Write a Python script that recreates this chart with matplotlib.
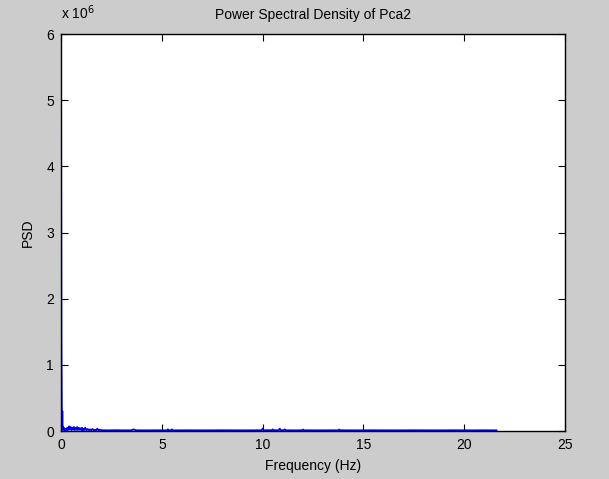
import matplotlib
matplotlib.use("Agg")
import matplotlib.pyplot as plt
from matplotlib.ticker import FuncFormatter

plt.rcParams['font.family'] = ['Liberation Sans', 'DejaVu Sans']

title = "Power Spectral Density of Pca2"
xlabel = "Frequency (Hz)"
ylabel = "PSD"

freq = [0.0, 0.02, 0.045, 0.065, 0.085, 0.11, 0.14, 0.17, 0.2, 0.24, 0.28, 0.31, 0.35,
        0.4, 0.44, 0.48, 0.52, 0.56, 0.6, 0.64, 0.68, 0.72, 0.76, 0.8, 0.84, 0.88,
        0.92, 0.96, 1.0, 1.04, 1.08, 1.12, 1.16, 1.2, 1.26, 1.32, 1.38, 1.44, 1.5,
        1.56, 1.62, 1.68, 1.74, 1.8, 1.86, 1.92, 2.0, 2.3, 2.7, 3.1, 3.5, 3.6, 3.7,
        4.2, 4.8, 5.25, 5.3, 5.35, 5.45, 5.5, 5.55, 6.2, 7.0, 8.0, 9.0, 9.95, 10.0,
        10.05, 10.3, 10.45, 10.5, 10.55, 10.8, 10.85, 10.9, 11.05, 11.1, 11.15, 11.6,
        11.95, 12.0, 12.05, 12.8, 13.75, 13.8, 13.85, 14.6, 15.5, 16.5, 17.5, 18.5,
        19.5, 20.5, 21.0, 21.6]
psd = [5.75e6, 1.2e6, 0.02e6, 0.30e6, 0.02e6, 0.06e6, 0.015e6, 0.04e6, 0.01e6, 0.03e6,
       0.012e6, 0.05e6, 0.015e6, 0.07e6, 0.02e6, 0.06e6, 0.015e6, 0.05e6, 0.02e6,
       0.06e6, 0.015e6, 0.045e6, 0.02e6, 0.06e6, 0.015e6, 0.05e6, 0.02e6, 0.04e6,
       0.015e6, 0.05e6, 0.012e6, 0.035e6, 0.015e6, 0.05e6, 0.012e6, 0.03e6, 0.012e6,
       0.025e6, 0.012e6, 0.03e6, 0.01e6, 0.02e6, 0.012e6, 0.035e6, 0.01e6, 0.02e6,
       0.012e6, 0.01e6, 0.012e6, 0.01e6, 0.011e6, 0.025e6, 0.011e6, 0.01e6, 0.011e6,
       0.01e6, 0.025e6, 0.01e6, 0.011e6, 0.025e6, 0.01e6, 0.011e6, 0.01e6, 0.011e6,
       0.01e6, 0.011e6, 0.035e6, 0.011e6, 0.012e6, 0.011e6, 0.025e6, 0.011e6, 0.012e6,
       0.035e6, 0.011e6, 0.012e6, 0.025e6, 0.011e6, 0.01e6, 0.011e6, 0.022e6,
       0.011e6, 0.01e6, 0.011e6, 0.022e6, 0.011e6, 0.01e6, 0.011e6, 0.01e6, 0.011e6,
       0.01e6, 0.011e6, 0.01e6, 0.011e6, 0.01e6]

xticks = [0, 5, 10, 15, 20, 25]
yticks = [0, 1e6, 2e6, 3e6, 4e6, 5e6, 6e6]

fig = plt.figure(figsize=(6.09, 4.79), dpi=100, facecolor='#cccccc')
ax = fig.add_axes([0.1002, 0.1002, 0.8276, 0.8288])
ax.set_facecolor('white')
ax.plot(freq, psd, color='#0000ff', linewidth=1.3, clip_on=True)

ax.set_xlim(0, 25)
ax.set_ylim(0, 6e6)
ax.set_xticks(xticks)
ax.set_yticks(yticks)
ax.yaxis.set_major_formatter(FuncFormatter(lambda v, p: f"{v/1e6:g}"))
ax.tick_params(direction='in', length=5, width=0.8, top=True, right=True,
               labelsize=10, colors='black', pad=5)
for s in ax.spines.values():
    s.set_color('black')
    s.set_linewidth(1.0)

ax.set_title(title, fontsize=10, pad=11)
ax.set_xlabel(xlabel, fontsize=10, labelpad=5)
ax.set_ylabel(ylabel, fontsize=10, labelpad=8)
ax.text(0.0, 1.03, r"x 10$^{6}$", transform=ax.transAxes, fontsize=10,
        ha='left', va='bottom')

fig.savefig("out.png", dpi=100, facecolor=fig.get_facecolor())
